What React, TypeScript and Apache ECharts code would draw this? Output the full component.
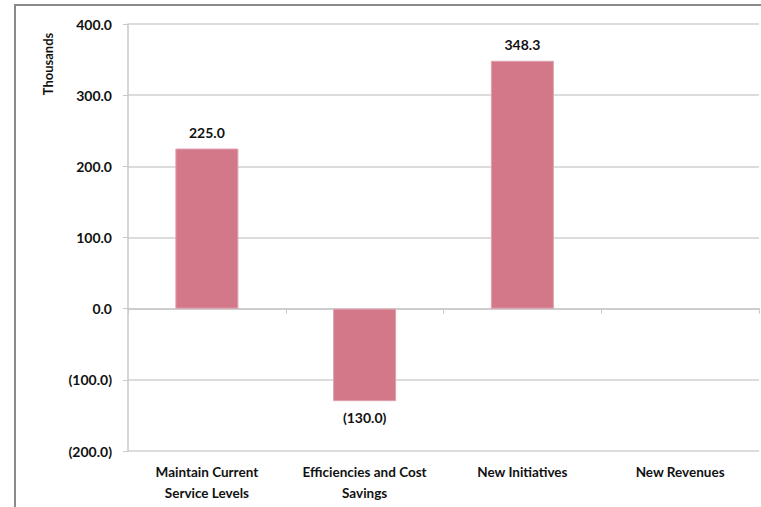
import React, { useEffect, useRef } from "react";
import * as echarts from "echarts";

const categories = ["Maintain Current\nService Levels", "Efficiencies and Cost\nSavings", "New Initiatives", "New Revenues"];
const values: (number | null)[] = [225.0, -130.0, 348.3, null];
const yMin = -200;
const yMax = 400;
const yInterval = 100;

const fmt = (v: number) => (v < 0 ? `(${Math.abs(v).toFixed(1)})` : v.toFixed(1));

export default function App() {
  const ref = useRef<HTMLDivElement>(null);
  useEffect(() => {
    if (!ref.current) return;
    const chart = echarts.init(ref.current, null, { renderer: "svg" });
    const font = "Lato, 'Open Sans', sans-serif";
    chart.setOption({
      animation: false,
      textStyle: { fontFamily: font },
      grid: { left: 128, top: 24, right: 2, bottom: 56, containLabel: false },
      graphic: [
        {
          type: "rect",
          shape: { x: 15, y: 5, width: 800, height: 600 },
          style: { fill: "none", stroke: "#8a8a8a", lineWidth: 2 },
          silent: true,
        },
        {
          type: "text",
          x: 48,
          y: 64,
          rotation: Math.PI / 2,
          style: {
            text: "Thousands",
            fill: "#111",
            font: `bold 13px ${font}`,
            align: "center",
            verticalAlign: "middle",
          },
        },
      ],
      xAxis: [
        {
          type: "category",
          data: categories,
          position: "bottom",
          axisLine: { show: false, onZero: false },
          axisTick: { show: false },
          axisLabel: {
            color: "#111",
            fontWeight: "bold",
            fontSize: 13.5,
            fontFamily: font,
            lineHeight: 21,
            margin: 10,
            interval: 0,
          },
        },
        {
          type: "category",
          data: categories,
          position: "bottom",
          axisLine: { show: true, onZero: true, lineStyle: { color: "#c8c8c8", width: 1.5 } },
          axisTick: { show: true, length: 5, lineStyle: { color: "#c8c8c8" } },
          axisLabel: { show: false },
        },
      ],
      yAxis: {
        type: "value",
        min: yMin,
        max: yMax,
        interval: yInterval,
        axisLine: { show: true, lineStyle: { color: "#c8c8c8", width: 1.5 } },
        axisTick: { show: true, length: 5, lineStyle: { color: "#c8c8c8" } },
        splitLine: { show: true, lineStyle: { color: "#d0d0d0", width: 1.5 } },
        axisLabel: {
          color: "#111",
          fontWeight: "bold",
          fontSize: 14,
          fontFamily: font,
          margin: 16,
          formatter: (v: number) => fmt(v),
        },
      },
      series: [
        {
          type: "bar",
          xAxisIndex: 0,
          data: values,
          barWidth: 63,
          itemStyle: { color: "#d27889", borderColor: "#e1a0ad", borderWidth: 1 },
          label: {
            show: true,
            position: "outside",
            distance: 9,
            color: "#111",
            fontWeight: "bold",
            fontSize: 14,
            fontFamily: font,
            formatter: (p: any) => (p.value == null ? "" : fmt(p.value)),
          },
        },
      ],
    });
    return () => chart.dispose();
  }, []);
  return <div ref={ref} style={{ width: 761, height: 507, position: "absolute", left: 0, top: 0 }} />;
}
